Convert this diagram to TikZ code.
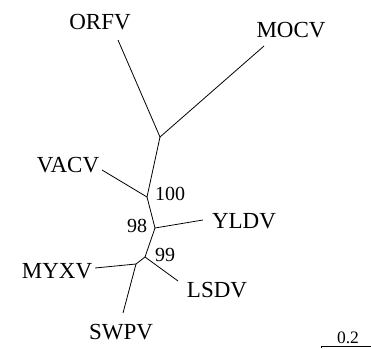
\documentclass[tikz,border=0pt]{standalone}
\usepackage{fontspec}
\setmainfont{Liberation Serif}
\usepackage{tikz}

\tikzset{
  taxon/.style={font=\fontsize{23}{26}\selectfont, inner sep=0pt},
  boot/.style={font=\fontsize{20}{23}\selectfont, inner sep=0pt},
  branch/.style={line width=0.8pt}
}

\begin{document}
\begin{tikzpicture}[x=1pt,y=-1pt]
        \useasboundingbox (0,0) rectangle (371,348);
        % Inner nodes of the tree
        \coordinate (root) at (160,137);
        \coordinate (nA) at (147,197);
        \coordinate (nB) at (155,228);
        \coordinate (nC) at (145,257);
        \coordinate (nD) at (136,264);
        % Tips of the branches
        \coordinate (tORFV) at (118,40);
        \coordinate (tMOCV) at (264,46);
        \coordinate (tVACV) at (102,170);
        \coordinate (tYLDV) at (203,220);
        \coordinate (tLSDV) at (178,281);
        \coordinate (tMYXV) at (95,268);
        \coordinate (tSWPV) at (123,313);
        % Draw the branches
        \foreach \a/\b in {root/tORFV,root/tMOCV,root/nA,nA/tVACV,nA/nB,nB/tYLDV,nB/nC,nC/tLSDV,nC/nD,nD/tMYXV,nD/tSWPV}{
            \draw[branch] (\a) -- (\b);
        }
        % Names of the viruses
        \node[taxon] (ORFV) at (100,22) {ORFV};
        \node[taxon] (MOCV) at (291,30) {MOCV};
        \node[taxon] (VACV) at (68,165) {VACV};
        \node[taxon] (YLDV) at (244,221) {YLDV};
        \node[taxon] (MYXV) at (57,271) {MYXV};
        \node[taxon] (LSDV) at (217,290) {LSDV};
        \node[taxon] (SWPV) at (121,332) {SWPV};
        % Bootstrap values
        \node[boot] (b100) at (170,194) {100};
        \node[boot] (b98) at (137,226) {98};
        \node[boot] (b99) at (165,255) {99};
        % Scale bar
        \coordinate (sL) at (321,346);
        \coordinate (sR) at (371,346);
        \draw[branch] ([yshift=-2pt]sL) -- (sL) -- (sR);
        \node[font=\fontsize{17.5}{20}\selectfont, inner sep=0pt] (scale) at (348,338) {0.2};
\end{tikzpicture}
\end{document}
